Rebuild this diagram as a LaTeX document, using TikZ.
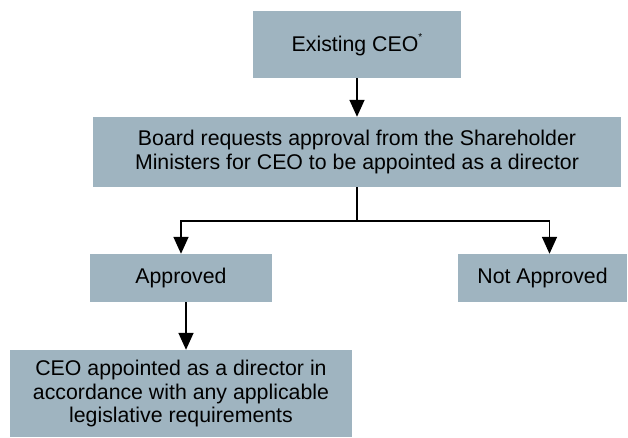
\documentclass[tikz,border=0pt]{standalone}
\usepackage{fontspec}
\setmainfont{Liberation Sans}
\usetikzlibrary{arrows.meta}
\definecolor{boxblue}{RGB}{159,180,192}
\tikzset{
  flowbox/.style={fill=boxblue, align=center, inner sep=0pt,
    font=\fontsize{21.3}{23.5}\selectfont},
  flowarr/.style={line width=1.6pt, -{Triangle[width=15pt,length=17pt]}}
}
\def\dline{\draw[line width=1.6pt]}

\begin{document}
\begin{tikzpicture}[x=1pt,y=-1pt]
                \useasboundingbox (0,0) rectangle (628,438);
                \node[flowbox, minimum width=208, minimum height=67] (ceo) at (357,44.5)
                    {Existing CEO\raisebox{0.95ex}{\fontsize{10}{10}\selectfont *}};
                \node[flowbox, minimum width=528, minimum height=70] (board) at (357,152)
                    {Board requests approval from the Shareholder\\Ministers for CEO to be appointed as a director};
                \node[flowbox, minimum width=182, minimum height=48] (appr) at (181,278) {Approved};
                \node[flowbox, minimum width=169, minimum height=48] (nappr) at (542.5,278) {Not Approved};
                \node[flowbox, minimum width=342, minimum height=87] (appt) at (181,393.5)
                    {CEO appointed as a director in\\accordance with any applicable\\legislative requirements};
                \draw[flowarr] (ceo) -- (board);
                \dline (board.south) -- ++(0,34) coordinate (split);
                \draw[flowarr] (split) -| (appr.north);
                \draw[flowarr] (split) -| ([xshift=7]nappr.north);
                \draw[flowarr] ([xshift=5]appr.south) -- ([xshift=5]appt.north);
            \end{tikzpicture}
\end{document}
